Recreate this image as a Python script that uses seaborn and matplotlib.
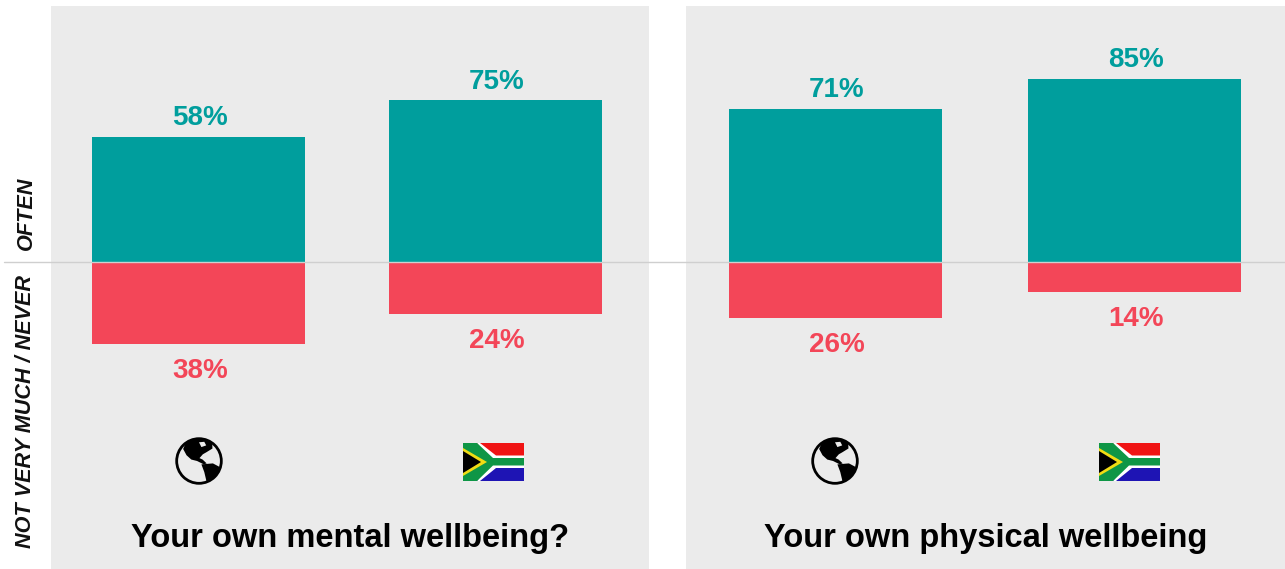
import matplotlib
matplotlib.use("Agg")
import matplotlib.pyplot as plt
from matplotlib.lines import Line2D
from matplotlib.patches import Circle, Polygon, Rectangle
import pandas as pd
import seaborn as sns

sns.set_theme(style="white")
plt.rcParams["font.family"] = ["Liberation Sans", "DejaVu Sans"]

questions = ["Your own mental wellbeing?", "Your own physical wellbeing"]
regions = ["Global", "South Africa"]
often = [[58, 75], [71, 85]]
not_often = [[38, 24], [26, 14]]

TEAL = "#009E9D"
RED = "#F34658"
PANEL = "#EBEBEB"
W, H = 1285, 569

rows = []
for q, ov, nv in zip(questions, often, not_often):
    for r, o, n in zip(regions, ov, nv):
        rows.append({"question": q, "region": r, "response": "Often", "share": o})
        rows.append({"question": q, "region": r, "response": "Not very much / never", "share": -n})
df = pd.DataFrame(rows)


def px_axes(fig, x0, y0, x1, y1, **kw):
    """Axes placed by pixel box, with y counted from the top of the figure."""
    return fig.add_axes([x0 / W, 1 - y1 / H, (x1 - x0) / W, (y1 - y0) / H], **kw)


def draw_globe(fig, cx, cy, r):
    ax = px_axes(fig, cx - r, cy - r, cx + r, cy + r)
    ax.set_xlim(-1, 1)
    ax.set_ylim(-1, 1)
    ax.axis("off")
    clip = Circle((0, 0), 0.93, transform=ax.transData)
    north = [(-0.66, 0.50), (-0.50, 0.88), (0.05, 1.0), (0.55, 0.80), (0.56, 0.52),
             (0.30, 0.36), (0.16, 0.28), (0.02, 0.12), (0.15, 0.06), (0.32, -0.10),
             (0.2, -0.14), (-0.08, 0.0), (-0.32, 0.06), (-0.52, 0.24)]
    south = [(0.10, -0.14), (0.58, -0.10), (0.92, -0.28), (0.84, -0.60),
             (0.52, -0.92), (0.32, -0.88), (0.22, -0.46)]
    for pts in (north, south):
        land = Polygon(pts, closed=True, fc="black", ec="none")
        ax.add_patch(land)
        land.set_clip_path(clip)
    ax.add_patch(Polygon([(0.0, 0.78), (0.22, 0.80), (0.30, 0.65), (0.10, 0.58)],
                         closed=True, fc=PANEL, ec="none"))
    ax.add_patch(Circle((0, 0), 0.93, fc="none", ec="black", lw=2.0))


def draw_flag(fig, x0, y0, x1, y1):
    ax = px_axes(fig, x0, y0, x1, y1)
    ax.set_xlim(0, 61)
    ax.set_ylim(38, 0)
    ax.axis("off")
    ax.add_patch(Rectangle((14, 0), 47, 13, fc="#F01414", ec="none"))
    ax.add_patch(Rectangle((14, 25), 47, 13, fc="#1E14B4", ec="none"))
    ax.add_patch(Polygon([(14, 0), (17, 0), (33, 12.5), (61, 12.5), (61, 25), (33, 25),
                          (17, 38), (14, 38), (28, 19)], closed=True, fc="white", ec="none"))
    ax.add_patch(Polygon([(0, 0), (14, 0), (30, 15), (61, 15), (61, 22.5), (30, 22.5),
                          (14, 38), (0, 38)], closed=True, fc="#0E9646", ec="none"))
    ax.add_patch(Polygon([(0, 5), (24, 19), (0, 33)], closed=True, fc="#F0DC14", ec="none"))
    ax.add_patch(Polygon([(0, 8), (18, 19), (0, 30)], closed=True, fc="black", ec="none"))


fig = plt.figure(figsize=(W / 100, H / 100), dpi=100, facecolor="white")

# pixel boxes of the panels and the spacing of the bars inside them
panels = [
    {"box": (51, 6, 649, 569), "xlim": (-0.4966, 1.517), "width": 0.717, "globe": 199, "flag": 463},
    {"box": (686, 6, 1285, 569), "xlim": (-0.5, 1.503), "width": 0.712, "globe": 835, "flag": 1099},
]
PX_PER_PCT = 2.155
ylim = (-(569 - 262) / PX_PER_PCT, (262 - 6) / PX_PER_PCT)

for q, spec in zip(questions, panels):
    ax = px_axes(fig, *spec["box"])
    ax.set_facecolor(PANEL)
    sub = df[df["question"] == q]
    sns.barplot(data=sub, x="region", y="share", hue="response",
                hue_order=["Often", "Not very much / never"],
                palette=[TEAL, RED], order=regions, dodge=False,
                width=spec["width"], legend=False, ax=ax, saturation=1, errorbar=None,
                linewidth=0, edgecolor="none")
    ax.set_xlim(*spec["xlim"])
    ax.set_ylim(*ylim)
    ax.set_xticks([])
    ax.set_yticks([])
    ax.set_xlabel("")
    ax.set_ylabel("")
    sns.despine(ax=ax, left=True, bottom=True)

    for i, r in enumerate(regions):
        row = sub[sub["region"] == r]
        up = row[row["response"] == "Often"]["share"].iloc[0]
        down = row[row["response"] != "Often"]["share"].iloc[0]
        ax.annotate(f"{up}%", (i, up), xytext=(1, 13.5), textcoords="offset points",
                    ha="center", va="center", color=TEAL, fontsize=20, fontweight="bold")
        ax.annotate(f"{-down}%", (i, down), xytext=(1, -19.5), textcoords="offset points",
                    ha="center", va="center", color=RED, fontsize=20, fontweight="bold")

    cx = (spec["box"][0] + spec["box"][2]) / 2
    fig.text(cx / W, 1 - 539 / H, q, ha="center", va="center", fontsize=23.5,
             fontweight="bold", color="black")
    draw_globe(fig, spec["globe"], 461, 24)
    draw_flag(fig, spec["flag"], 443, spec["flag"] + 61, 481)

# shared zero line across both panels
fig.add_artist(Line2D([4 / W, 1], [1 - 262 / H, 1 - 262 / H], transform=fig.transFigure,
                      color="#CFCFCF", lw=1.0))

fig.text(26 / W, 1 - 213.5 / H, "OFTEN", rotation=90, ha="center", va="center",
         fontsize=15.6, fontweight="bold", fontstyle="italic", color="#111111")
fig.text(26 / W, 1 - 411.5 / H, "NOT VERY MUCH / NEVER", rotation=90, ha="center", va="center",
         fontsize=15.6, fontweight="bold", fontstyle="italic", color="#111111")

fig.savefig("out.png", dpi=100, facecolor="white")
